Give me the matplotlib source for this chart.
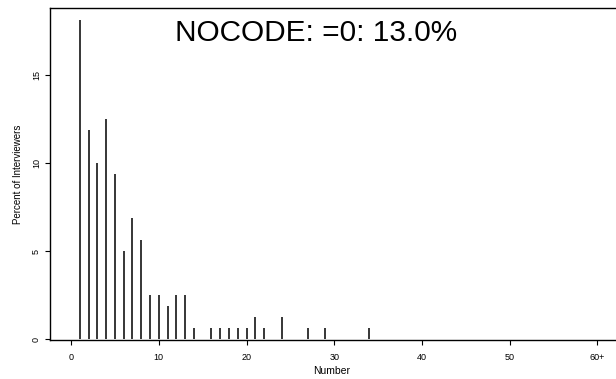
"""Percent of interviewers by number (R-style spike plot)."""

import matplotlib
matplotlib.use("Agg")
import matplotlib.pyplot as plt

plt.rcParams["font.family"] = ["Liberation Sans", "DejaVu Sans"]

# values
numbers = [1, 2, 3, 4, 5, 6, 7, 8, 9, 10, 11, 12, 13, 14,
           16, 17, 18, 19, 20, 21, 22, 24, 27, 29, 34]
percents = [18.125, 11.875, 10.0, 12.5, 9.375, 5.0, 6.875, 5.625, 2.5, 2.5,
            1.875, 2.5, 2.5, 0.625,
            0.625, 0.625, 0.625, 0.625, 0.625, 1.25, 0.625, 1.25, 0.625,
            0.625, 0.625]
x_ticks = [0, 10, 20, 30, 40, 50, 60]
x_tick_labels = ["0", "10", "20", "30", "40", "50", "60+"]
y_ticks = [0, 5, 10, 15]
annotation = "NOCODE: =0: 13.0%"

fig = plt.figure(figsize=(6.16, 3.79), dpi=100)
ax = fig.add_axes([50 / 616, 1 - 340 / 379, 568.5 / 616, 332 / 379])

ax.vlines(numbers, 0, percents, color="black", linewidth=1.1)

ax.set_xlim(-2.4, 62.4)
ax.set_ylim(-0.05, 18.8)

ax.set_xticks(x_ticks)
ax.set_xticklabels(x_tick_labels)
ax.set_yticks(y_ticks)
ax.set_yticklabels([str(v) for v in y_ticks], rotation=90, va="center")
ax.tick_params(axis="both", length=3.5, width=0.8, labelsize=6.5,
               color="black")
ax.tick_params(axis="x", pad=6)
ax.tick_params(axis="y", pad=3)

for side in ["left", "bottom", "top", "right"]:
    ax.spines[side].set_linewidth(1.0)
    ax.spines[side].set_color("black")

ax.set_xlabel("Number", fontsize=7.5)
ax.set_ylabel("Percent of Interviewers", fontsize=7)
ax.xaxis.set_label_coords(282 / 568.5, -26 / 332)
ax.yaxis.set_label_coords(-27 / 568.5, 0.5)

ax.text(266 / 568.5, 1 - 25 / 332, annotation, transform=ax.transAxes,
        fontsize=21.4, ha="center", va="center")

fig.savefig("out.png", dpi=100)
plt.close(fig)
